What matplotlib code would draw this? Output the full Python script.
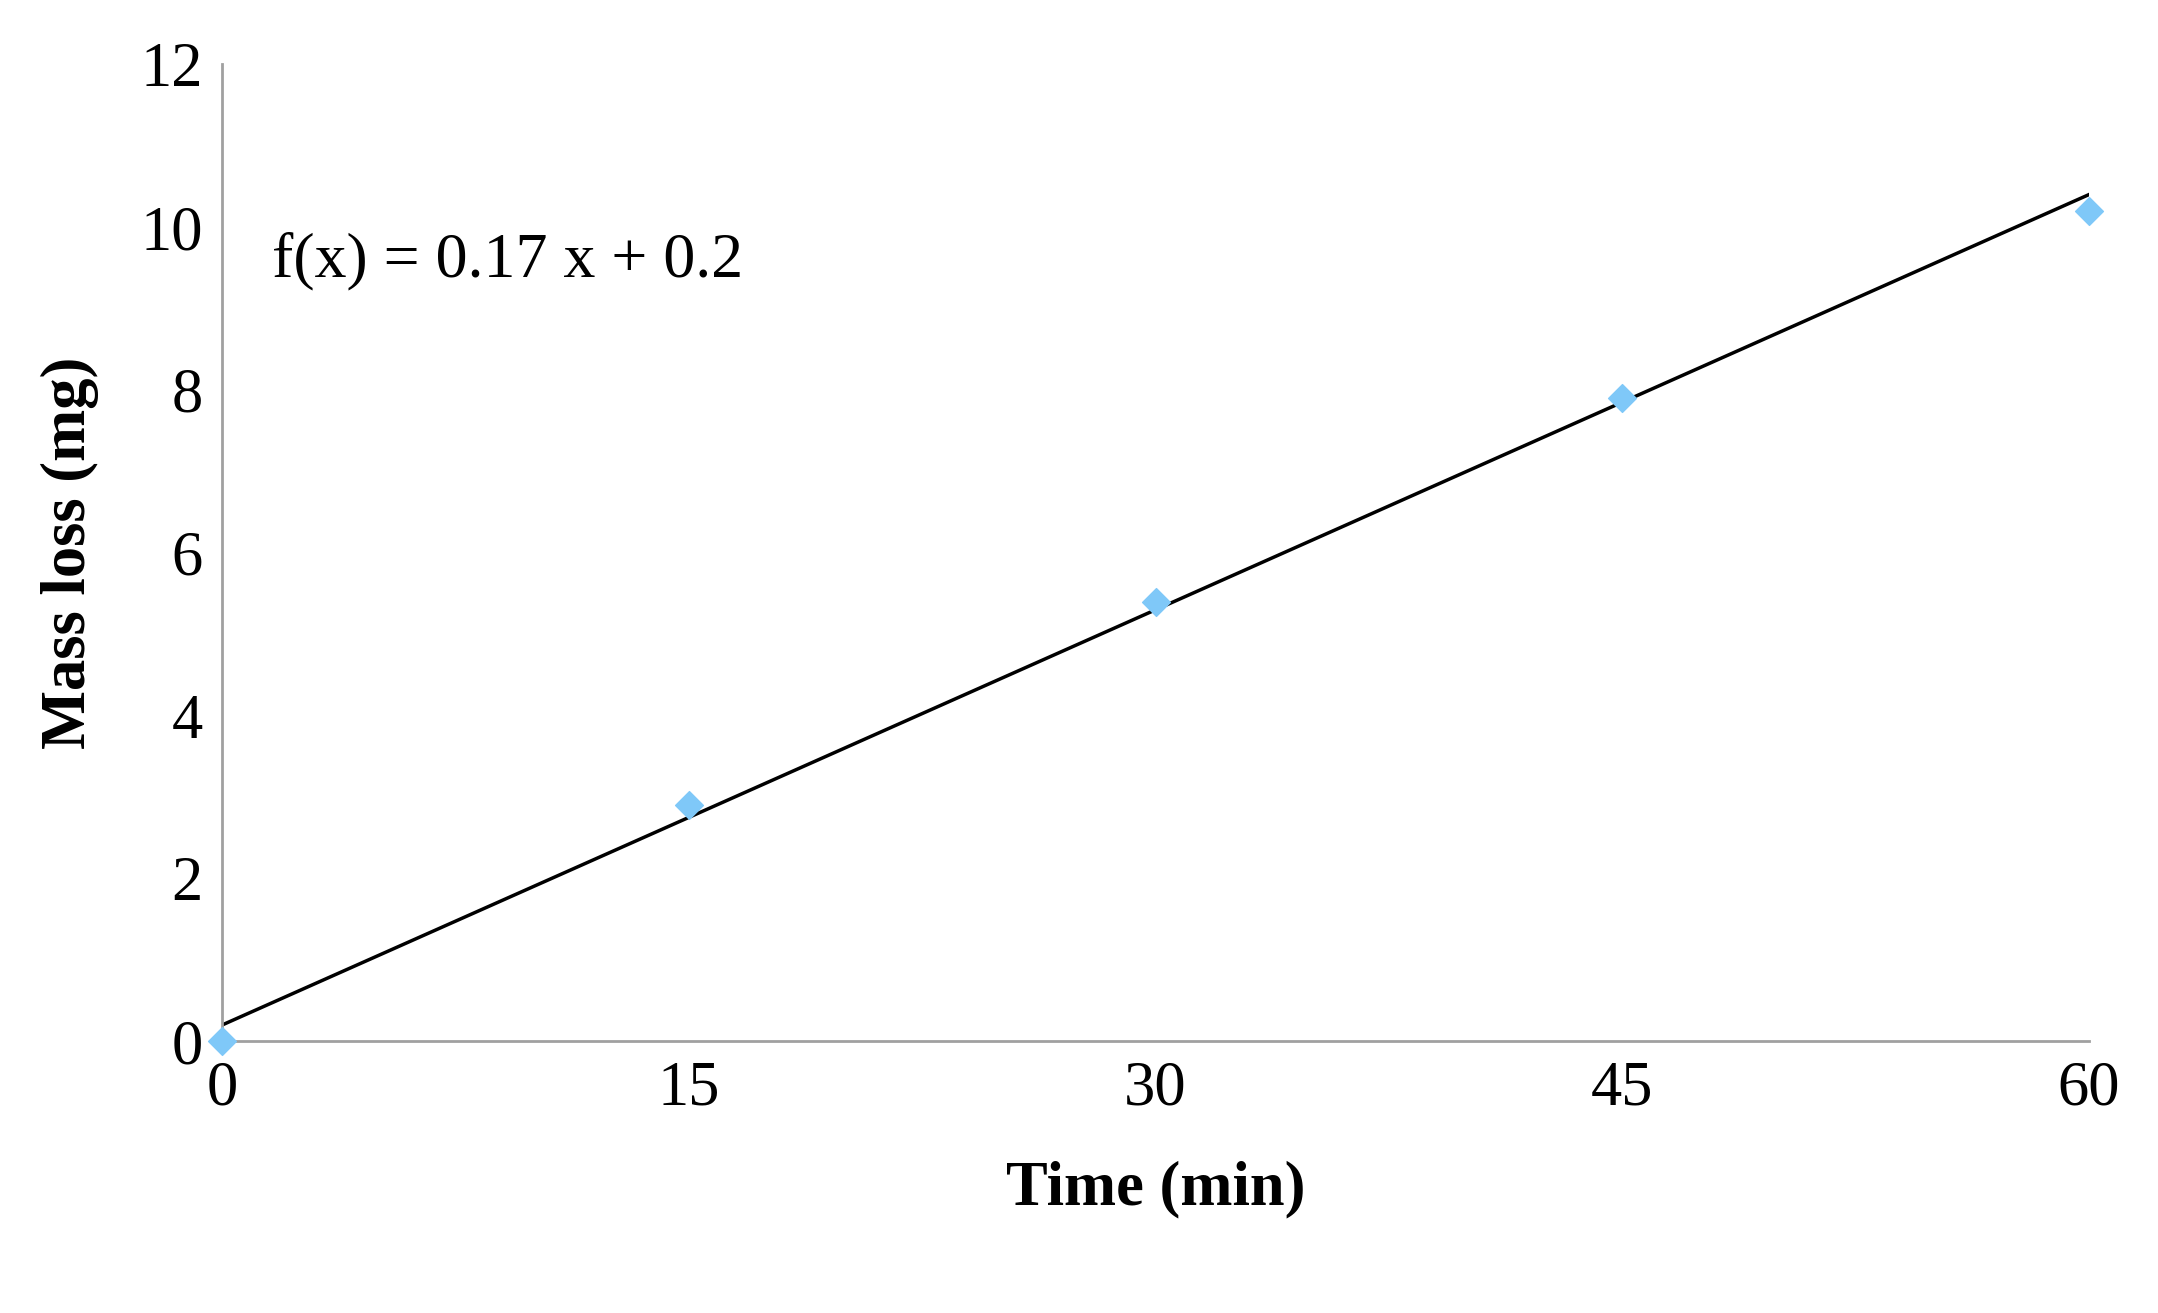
import matplotlib
matplotlib.use("Agg")
import matplotlib.pyplot as plt
import numpy as np

time_min = [0, 15, 30, 45, 60]
mass_loss = [0.0, 2.9, 5.4, 7.9, 10.2]
slope, intercept = 0.17, 0.2
x_ticks = [0, 15, 30, 45, 60]
y_ticks = [0, 2, 4, 6, 8, 10, 12]

plt.rcParams['font.family'] = ['Liberation Serif', 'DejaVu Serif']
fig = plt.figure(figsize=(21.58, 13.13), dpi=100)
ax = fig.add_axes([0.103, 0.207, 0.865, 0.744])

xs = np.array([time_min[0], time_min[-1]])
ax.plot(xs, slope * xs + intercept, color='black', lw=2.5, zorder=2)
ax.scatter(time_min, mass_loss, marker='D', s=200, color='#7fc8f8', zorder=3, clip_on=False)

ax.set_xlim(0, 60)
ax.set_ylim(0, 12)
ax.set_xticks(x_ticks)
ax.set_yticks(y_ticks)
ax.tick_params(labelsize=45, length=0, pad=14)
for s in ['top', 'right']:
    ax.spines[s].set_visible(False)
for s in ['left', 'bottom']:
    ax.spines[s].set_color('#a0a0a0')
    ax.spines[s].set_linewidth(2)

ax.set_xlabel('Time (min)', fontsize=45, fontweight='bold', labelpad=30)
ax.set_ylabel('Mass loss (mg)', fontsize=45, fontweight='bold', labelpad=30)
ax.text(1.6, 9.4, 'f(x) = 0.17 x + 0.2', fontsize=46)

fig.savefig('out.png', dpi=100)
